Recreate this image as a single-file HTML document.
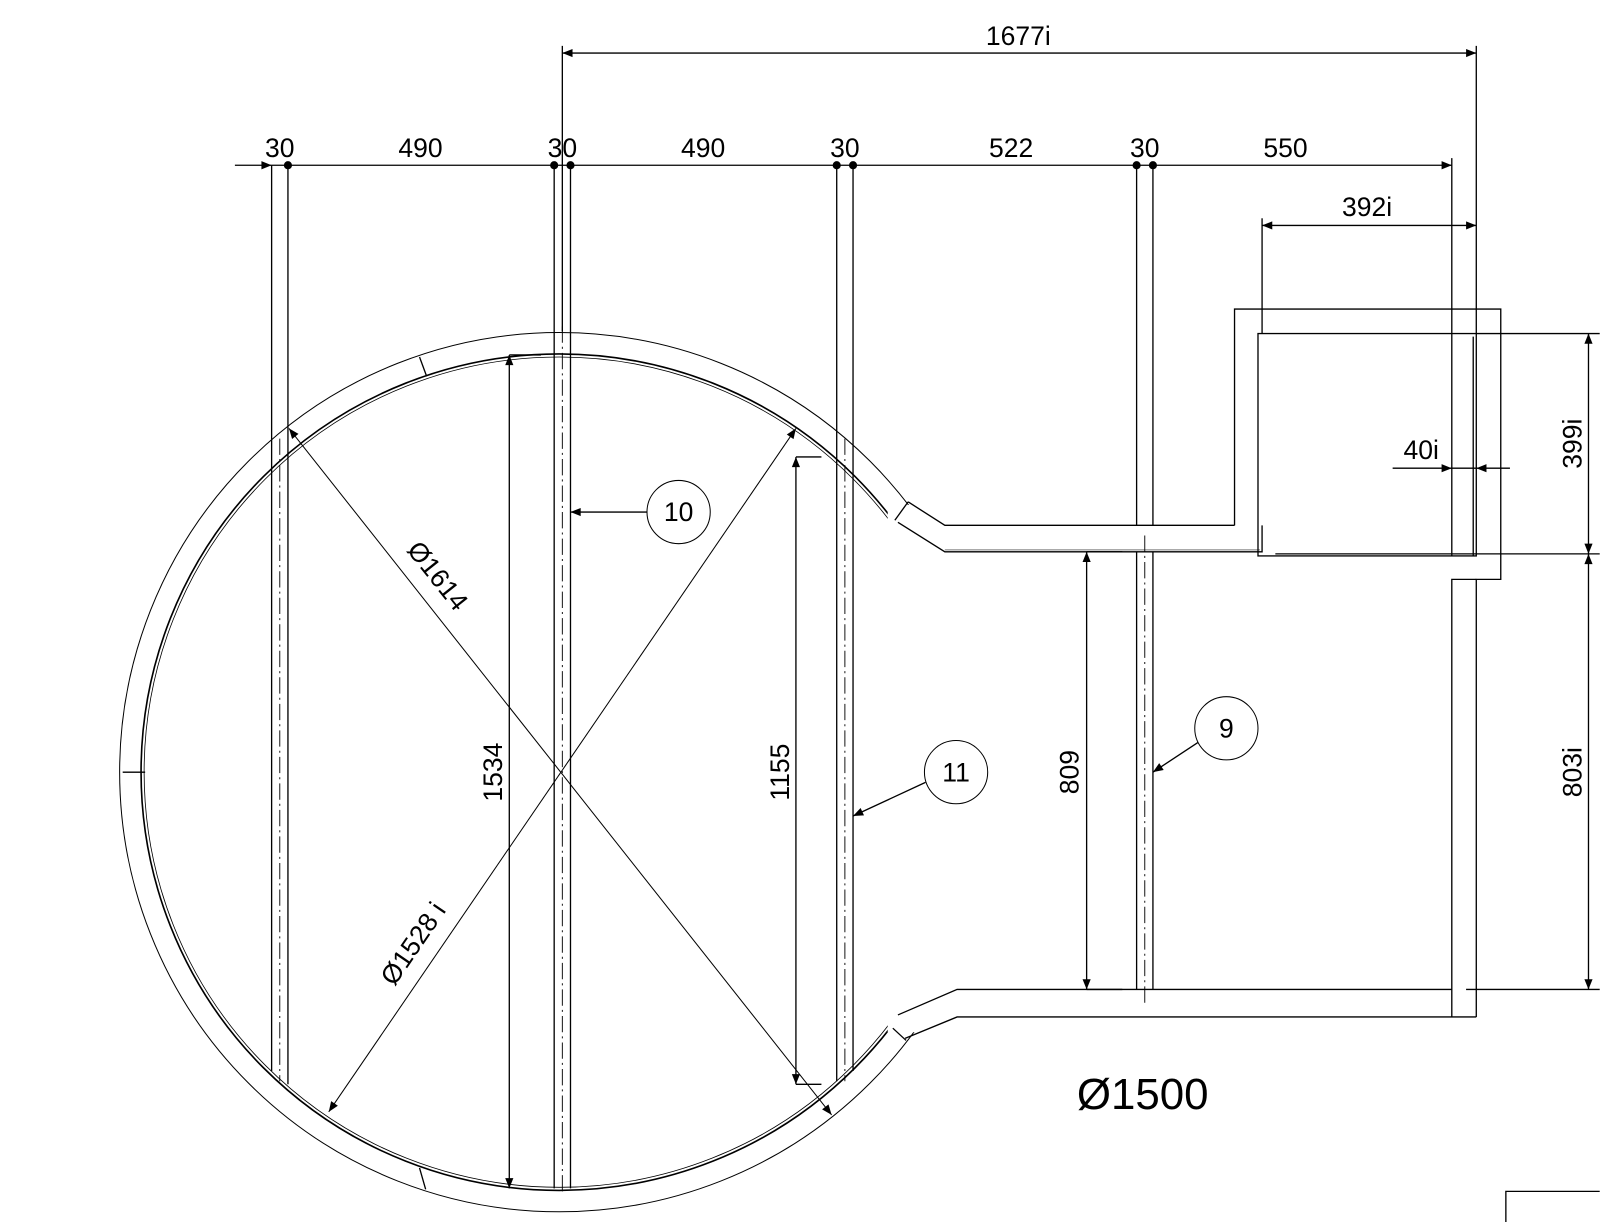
<!DOCTYPE html>
<html><head><meta charset="utf-8"><style>
html,body{margin:0;padding:0;background:#fff;}
svg{display:block;}
text{font-family:"Liberation Sans",sans-serif;fill:#000;}
</style></head><body>
<svg width="1600" height="1222" viewBox="0 0 1568 1198" xmlns="http://www.w3.org/2000/svg">
<defs>
<marker id="a" viewBox="0 0 10 10" refX="10" refY="5" markerWidth="20" markerHeight="10" markerUnits="userSpaceOnUse" orient="auto-start-reverse"><path d="M0,1 L10,5 L0,9 z" fill="#000"/></marker>
<clipPath id="nk"><rect x="0" y="0" width="870" height="1198"/><rect x="870" y="0" width="100" height="495"/><rect x="870" y="1012" width="100" height="200"/></clipPath>
</defs>
<g fill="none" stroke="#000" stroke-width="1.3">
<g clip-path="url(#nk)">
<circle cx="548" cy="757" r="431" stroke-width="1"/>
<circle cx="548" cy="757" r="410" stroke-width="1.6"/>
<circle cx="548" cy="757" r="407" stroke-width="0.8"/>
</g>
<line x1="411" y1="350" x2="418" y2="369"/>
<line x1="120" y1="757" x2="142" y2="757"/>
<line x1="411" y1="1145" x2="417" y2="1166"/>
<line x1="877" y1="510" x2="890" y2="492"/>
<line x1="875" y1="1008" x2="888" y2="1020"/>
<polyline points="890,492 926,515 1210,515"/>
<polyline points="880,512 926,541 1237,541 1237,515"/>
<line x1="926" y1="539" x2="1235" y2="539" stroke="#aaa" stroke-width="1.5"/>
<polyline points="880,995 938,970 1423,970"/>
<polyline points="887,1018 938,997 1447,997"/>
<polyline points="1210,515 1210,303 1471,303 1471,568 1447,568 1447,997"/>
<polyline points="1423,997 1423,568 1447,568"/>
<rect x="1233" y="327" width="214" height="218"/>
<line x1="1423" y1="327" x2="1423" y2="545"/>
<line x1="1444" y1="330" x2="1444" y2="545"/>
<line x1="266" y1="162" x2="266" y2="1050"/>
<line x1="282" y1="162" x2="282" y2="1063"/>
<line x1="543" y1="162" x2="543" y2="1165"/>
<line x1="559" y1="162" x2="559" y2="1165"/>
<line x1="820" y1="162" x2="820" y2="1060"/>
<line x1="836" y1="162" x2="836" y2="1050"/>
<line x1="1114" y1="162" x2="1114" y2="515"/>
<line x1="1130" y1="162" x2="1130" y2="515"/>
<line x1="1114" y1="541" x2="1114" y2="970"/>
<line x1="1130" y1="541" x2="1130" y2="970"/>
<g stroke-width="0.9" stroke-dasharray="16,4,2,4">
<line x1="274" y1="430" x2="274" y2="1060"/>
<line x1="551" y1="320" x2="551" y2="1170"/>
<line x1="828" y1="430" x2="828" y2="1060"/>
<line x1="1122" y1="525" x2="1122" y2="985"/>
</g>
<line x1="230" y1="162" x2="266" y2="162" marker-end="url(#a)"/>
<line x1="266" y1="162" x2="1423" y2="162" marker-end="url(#a)"/>
<line x1="1423" y1="155" x2="1423" y2="327"/>
<line x1="551" y1="45" x2="551" y2="325"/>
<line x1="1447" y1="45" x2="1447" y2="327"/>
<line x1="551" y1="52" x2="1447" y2="52" marker-start="url(#a)" marker-end="url(#a)"/>
<line x1="1237" y1="214" x2="1237" y2="327"/>
<line x1="1237" y1="221" x2="1447" y2="221" marker-start="url(#a)" marker-end="url(#a)"/>
<line x1="1447" y1="327" x2="1568" y2="327"/>
<line x1="1250" y1="543" x2="1568" y2="543"/>
<line x1="1437" y1="970" x2="1568" y2="970"/>
<line x1="1557" y1="327" x2="1557" y2="543" marker-start="url(#a)" marker-end="url(#a)"/>
<line x1="1557" y1="543" x2="1557" y2="970" marker-start="url(#a)" marker-end="url(#a)"/>
<line x1="1365" y1="459" x2="1423" y2="459" marker-end="url(#a)"/>
<line x1="1480" y1="459" x2="1447" y2="459" marker-end="url(#a)"/>
<line x1="1423" y1="459" x2="1447" y2="459"/>
<line x1="283" y1="420" x2="815" y2="1093" stroke-width="1" marker-start="url(#a)" marker-end="url(#a)"/>
<line x1="780" y1="420" x2="322" y2="1090" stroke-width="1" marker-start="url(#a)" marker-end="url(#a)"/>
<line x1="499" y1="348" x2="499" y2="1165" marker-start="url(#a)" marker-end="url(#a)"/>
<line x1="499" y1="348" x2="530" y2="348"/>
<line x1="780" y1="448" x2="780" y2="1063" marker-start="url(#a)" marker-end="url(#a)"/>
<line x1="780" y1="448" x2="805" y2="448"/>
<line x1="780" y1="1063" x2="805" y2="1063"/>
<line x1="1065" y1="541" x2="1065" y2="970" marker-start="url(#a)" marker-end="url(#a)"/>
<line x1="1065" y1="541" x2="1100" y2="541"/>
<line x1="1065" y1="970" x2="1100" y2="970"/>
<circle cx="665" cy="502" r="31" stroke-width="1"/>
<line x1="634" y1="502" x2="559" y2="502" marker-end="url(#a)"/>
<circle cx="937" cy="757" r="31" stroke-width="1"/>
<line x1="907" y1="767" x2="836" y2="800" marker-end="url(#a)"/>
<circle cx="1202" cy="714" r="31" stroke-width="1"/>
<line x1="1174" y1="728" x2="1130" y2="757" marker-end="url(#a)"/>
<polyline points="1476,1198 1476,1168 1568,1168"/>
</g>
<g fill="#000">
<circle cx="282" cy="162" r="4"/><circle cx="543" cy="162" r="4"/><circle cx="559" cy="162" r="4"/>
<circle cx="820" cy="162" r="4"/><circle cx="836" cy="162" r="4"/><circle cx="1114" cy="162" r="4"/><circle cx="1130" cy="162" r="4"/>
</g>
<g font-size="26" text-anchor="middle">
<text x="998" y="44">1677i</text>
<text x="274" y="154">30</text><text x="412" y="154">490</text>
<text x="551" y="154">30</text><text x="689" y="154">490</text>
<text x="828" y="154">30</text><text x="991" y="154">522</text>
<text x="1122" y="154">30</text><text x="1260" y="154">550</text>
<text x="1340" y="212">392i</text>
<text x="1393" y="450">40i</text>
<text x="665" y="511">10</text><text x="937" y="766">11</text><text x="1202" y="723">9</text>
<text transform="translate(1550,435) rotate(-90)">399i</text>
<text transform="translate(1550,757) rotate(-90)">803i</text>
<text transform="translate(492,757) rotate(-90)">1534</text>
<text transform="translate(773,757) rotate(-90)">1155</text>
<text transform="translate(1057,757) rotate(-90)">809</text>
<text transform="translate(422,570) rotate(51.6)">Ø1614</text>
<text transform="translate(412,930) rotate(-55.6)">Ø1528 i</text>
<text x="1120" y="1087" font-size="43">Ø1500</text>
</g>
</svg>
</body></html>
